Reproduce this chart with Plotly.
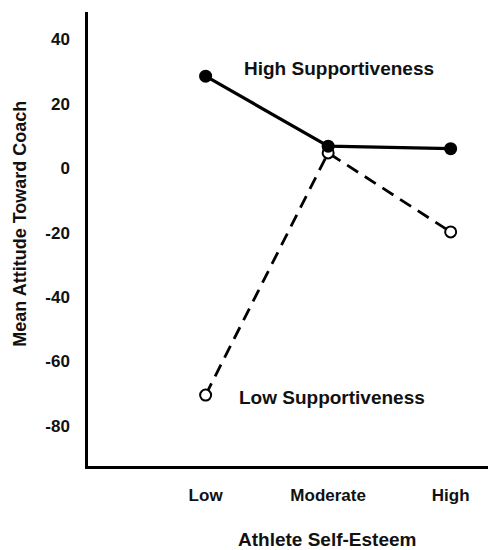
import plotly.graph_objects as go

# 데이터
categories = ["Low", "Moderate", "High"]
high_support = [28.5, 6.8, 6]
low_support = [-70.4, 4.7, -19.8]
y_ticks = [40, 20, 0, -20, -40, -60, -80]
y_ticktext = ["40", "20", "0", "-20", "-40", "-60", "-80"]

x_pos = list(range(len(categories)))
font_family = "Liberation Sans, Arial, sans-serif"

fig = go.Figure()

# Low supportiveness (점선, 빈 원)
fig.add_trace(go.Scatter(
    x=x_pos,
    y=low_support,
    mode="lines+markers",
    line={"color": "black", "width": 2.8, "dash": "13px,8px"},
    marker={"symbol": "circle", "size": 11, "color": "white",
            "line": {"color": "black", "width": 2}},
    name="Low Supportiveness",
))

# High supportiveness (실선, 채운 원)
fig.add_trace(go.Scatter(
    x=x_pos,
    y=high_support,
    mode="lines+markers",
    line={"color": "black", "width": 3.2},
    marker={"symbol": "circle", "size": 13, "color": "black"},
    name="High Supportiveness",
))

label_font = {"family": font_family, "size": 19, "color": "#111", "weight": "bold"}
fig.add_annotation(x=1.09, y=31, text="High Supportiveness", showarrow=False, font=label_font)
fig.add_annotation(x=1.03, y=-71.3, text="Low Supportiveness", showarrow=False, font=label_font)

# 축 제목 (위치 맞추려고 annotation 사용)
fig.add_annotation(xref="paper", yref="paper", x=0.587, y=-0.189,
                   text="Athlete Self-Esteem", showarrow=False,
                   font={"family": font_family, "size": 19, "color": "#111", "weight": "bold"})
fig.add_annotation(xref="paper", yref="paper", x=-0.197, y=0.533, textangle=-90,
                   text="Mean Attitude Toward Coach", showarrow=False,
                   font={"family": font_family, "size": 18, "color": "#111", "weight": "bold"})

# body margin 8px 보정
fig.update_layout(
    width=488,
    height=542,
    margin={"l": 80, "r": 0, "t": 4, "b": 84},
    plot_bgcolor="white",
    paper_bgcolor="white",
    showlegend=False,
    xaxis={
        "range": [-0.96, 2.37],
        "tickmode": "array",
        "tickvals": x_pos,
        "ticktext": categories,
        "showgrid": False,
        "zeroline": False,
        "showline": True,
        "linecolor": "black",
        "linewidth": 2.5,
        "ticks": "",
        "ticklabelstandoff": 12,
        "tickfont": {"family": font_family, "size": 17, "color": "#111", "weight": "bold"},
    },
    yaxis={
        "range": [-92.4, 48.4],
        "tickmode": "array",
        "tickvals": y_ticks,
        "ticktext": y_ticktext,
        "showgrid": False,
        "zeroline": False,
        "showline": True,
        "linecolor": "black",
        "linewidth": 2.5,
        "ticks": "",
        "ticklabelstandoff": 12,
        "tickfont": {"family": font_family, "size": 17, "color": "#111", "weight": "bold"},
    },
)

fig.write_html("out.html")
